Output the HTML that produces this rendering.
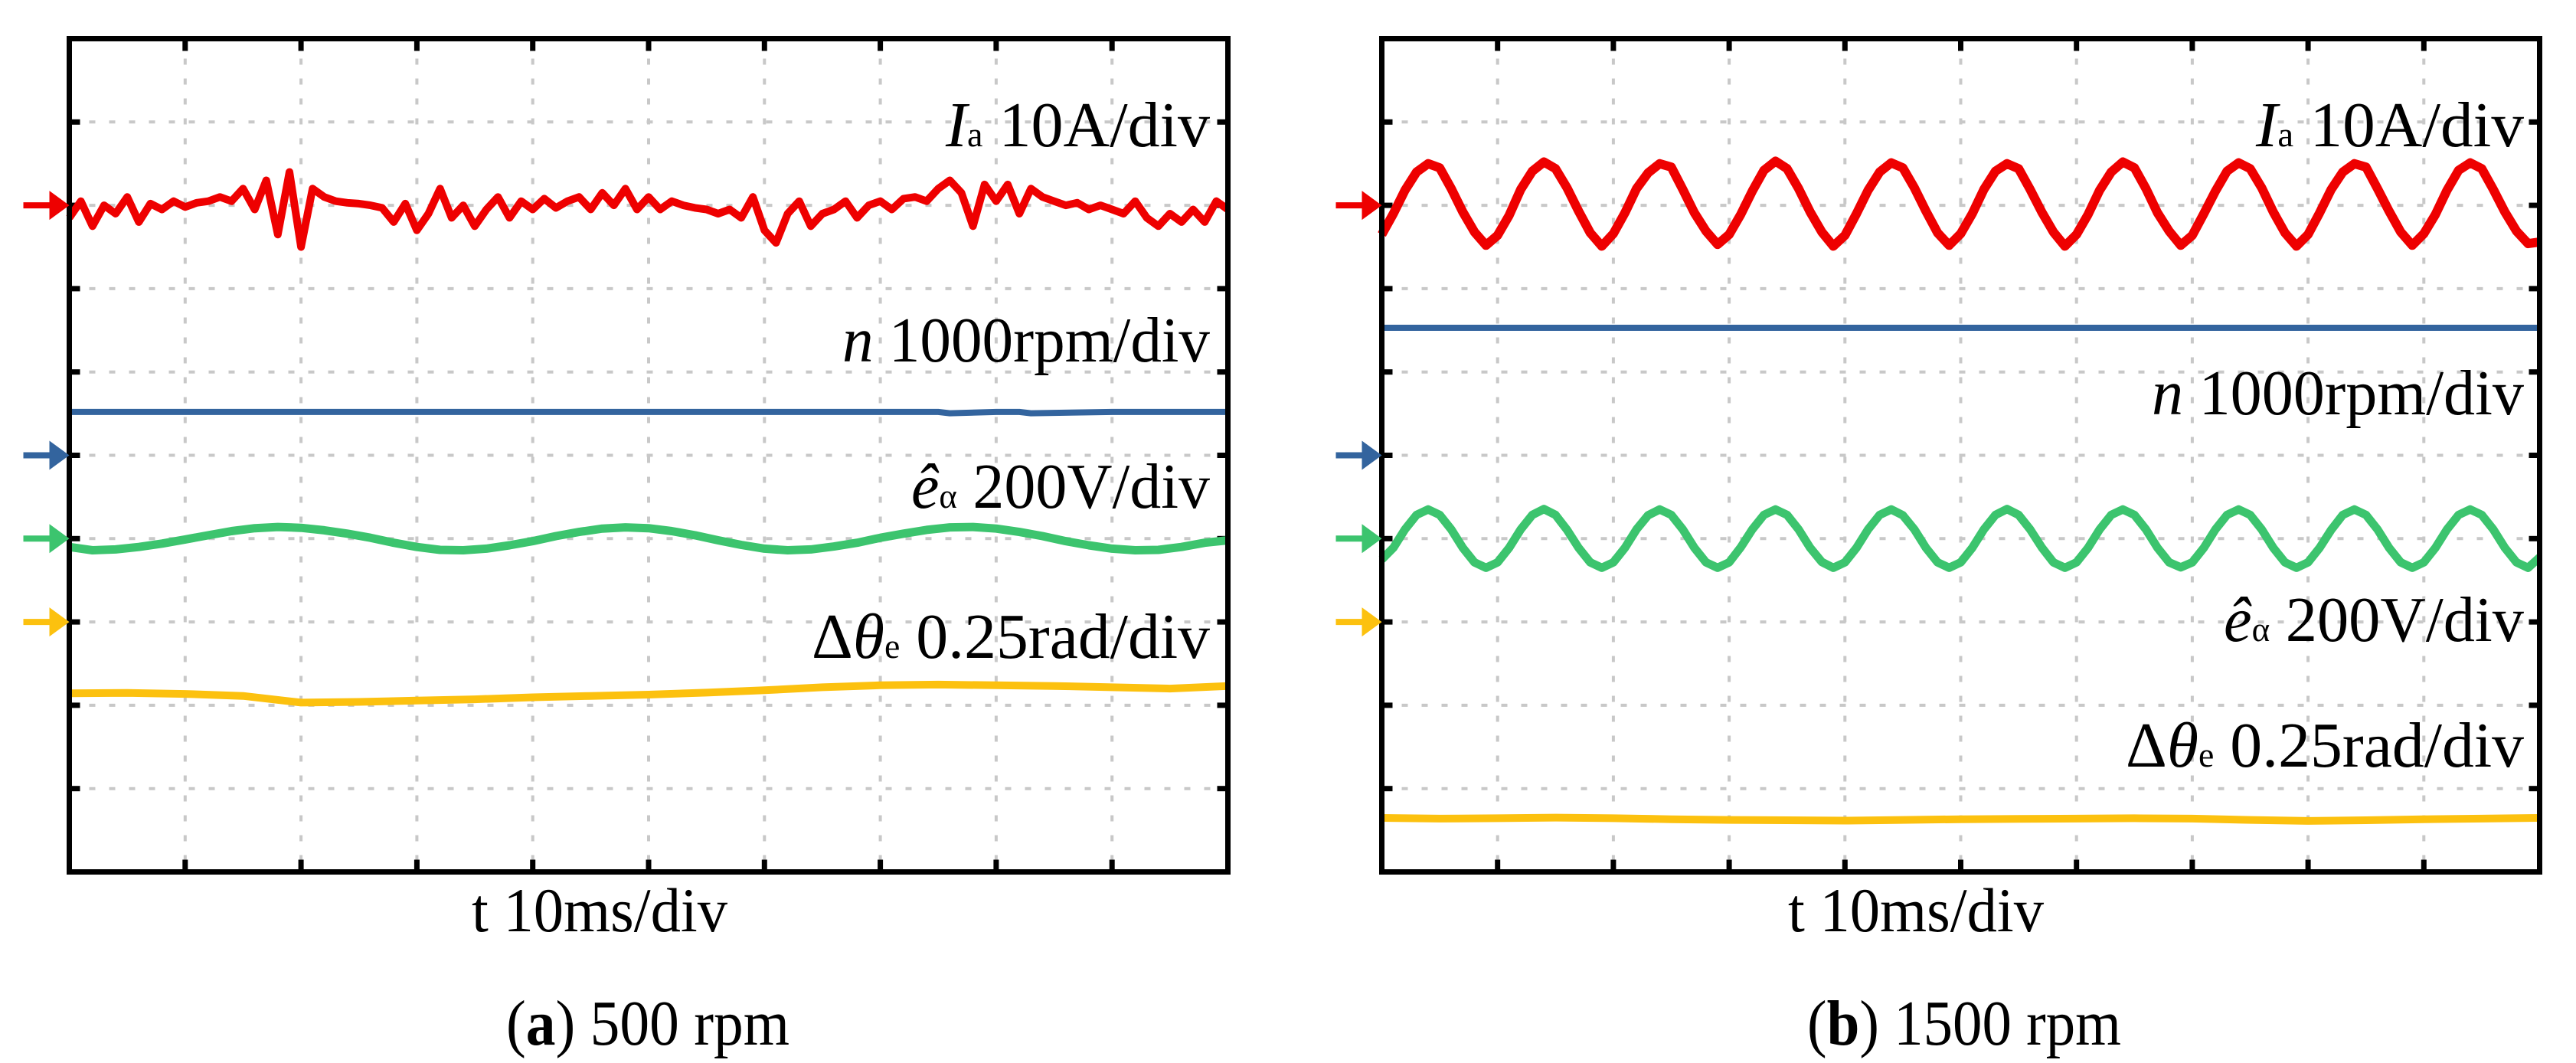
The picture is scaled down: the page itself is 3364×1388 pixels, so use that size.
<!DOCTYPE html>
<html><head><meta charset="utf-8"><style>
html,body{margin:0;padding:0;background:#fff;}
svg{display:block;font-family:"Liberation Serif",serif;}
</style></head><body>
<svg id="fig" width="3364" height="1388" viewBox="0 0 3364 1388" xmlns="http://www.w3.org/2000/svg"></svg>
<script>
// ---- data ----
const panelTitles = ["500 rpm", "1500 rpm"];
const panelLetters = ["a", "b"];
const timeSpanMs = 100;
const redTimeL = Array.from({length:101},(_, i)=>i);
const redL = [-1.5,0.5,-2.5,0,-1,1,-2,0.2,-0.5,0.5,-0.2,0.3,0.5,1,0.5,2,-0.5,3,-3.5,4,-5,2,1,0.5,0.3,0.2,0,-0.3,-2,0.2,-3,-1,2,-1.5,0,-2.5,-0.5,1,-1.5,0.5,-0.5,0.8,-0.3,0.5,1,-0.5,1.5,0,2,-0.5,1,-0.5,0.5,0,-0.3,-0.5,-1,-0.5,-1.5,1,-3,-4.5,-1,0.5,-2.5,-1,-0.5,0.5,-1.5,0,0.5,-0.5,0.8,1,0.5,2,3,1.5,-2.5,2.5,0.5,2.5,-1,2,1,0.5,0,0.3,-0.5,0,-0.5,-1,0.5,-1.5,-2.5,-1,-2,-0.5,-2,0.5,-0.5];
const redR = [-3.5,-1,1.8,4,5,4.5,2,-0.8,-3.2,-4.8,-3.6,-1.2,1.9,4.1,5.2,4.4,2.1,-0.7,-3.3,-4.9,-3.4,-0.9,2,3.9,5,4.6,1.9,-0.9,-3.1,-4.7,-3.5,-1.1,1.7,4.2,5.3,4.4,2,-0.8,-3.2,-4.9,-3.6,-1,1.8,4,5.1,4.5,2.1,-0.7,-3.3,-4.8,-3.4,-1,1.9,4.1,5,4.4,1.9,-0.8,-3.2,-4.9,-3.5,-1.1,1.8,4,5.2,4.5,2,-0.9,-3.1,-4.8,-3.6,-1,1.7,4.1,5.1,4.4,2.1,-0.8,-3.3,-4.9,-3.5,-0.9,1.9,4,5,4.6,2,-0.7,-3.2,-4.8,-3.4,-1.1,1.8,4.2,5.1,4.4,1.9,-0.8,-3.1,-4.6,-4.4];
const blueTime = [0,10,20,30,40,50,60,70,75,76,80,82,83,90,100];
const blueL = [520,520,520,520,520,520,520,520,520,505,520,520,505,520,520];
const blueR = [1530,1530,1530,1530,1530,1530,1530,1530,1530,1530,1530,1530,1530,1530,1530];
const greenTimeL = Array.from({length:51},(_, i)=>i*2);
const greenL = [-20,-28,-26,-20,-12,-2,8,18,25,28,26,20,12,2,-10,-20,-27,-28,-24,-16,-6,6,16,24,27,25,18,8,-4,-15,-24,-28,-26,-19,-10,2,12,21,27,28,24,16,6,-6,-16,-24,-28,-27,-20,-10,-4];
const greenTimeR = Array.from({length:101},(_, i)=>i);
const greenR = [-50,-22,22,57,70,57,22,-22,-57,-70,-57,-22,22,57,71,57,21,-22,-57,-70,-57,-22,22,56,70,57,22,-22,-57,-70,-57,-21,22,57,70,57,22,-22,-56,-70,-57,-22,22,57,70,56,22,-22,-57,-70,-57,-22,22,57,71,57,22,-21,-57,-70,-57,-22,22,57,70,57,22,-22,-57,-69,-57,-22,22,57,70,57,22,-22,-57,-70,-57,-22,21,57,70,57,22,-22,-57,-70,-57,-22,22,57,70,57,22,-22,-57,-70,-45];
const yellowTime = [0,5,10,15,20,25,30,35,40,45,50,55,60,65,70,75,80,85,90,95,100];
const yellowL = [-0.214,-0.213,-0.216,-0.222,-0.242,-0.24,-0.236,-0.232,-0.226,-0.222,-0.218,-0.212,-0.205,-0.196,-0.19,-0.188,-0.19,-0.192,-0.196,-0.2,-0.192];
const yellowR = [-0.588,-0.59,-0.589,-0.587,-0.589,-0.592,-0.594,-0.595,-0.596,-0.594,-0.592,-0.591,-0.59,-0.589,-0.59,-0.594,-0.597,-0.595,-0.592,-0.59,-0.588];
const channelScales = [10, 1000, 200, 0.25]; // units per division
const channelOffsetDiv = [3.0, 0, -1.0, -2.0]; // arrow positions (div above centre)
</script>
<script>
const NS="http://www.w3.org/2000/svg";
const svg=document.getElementById('fig');
function mk(tag,attrs,parent){const e=document.createElementNS(NS,tag);for(const k in attrs)e.setAttribute(k,attrs[k]);(parent||svg).appendChild(e);return e;}
const panels=[{x0:90.5,x1:1603.5},{x0:1804.5,x1:3316.5}];
const Y0=50.5,Y1=1138.5;
const divH=(Y1-Y0)/10;
const colors=["#ee0000","#33649e","#3cc46e","#fcc10f"];
panels.forEach((p,pi)=>{
  const g=mk('g',{});
  
  
  const divW=(p.x1-p.x0)/10;
  const xS=t=>p.x0+t/timeSpanMs*(p.x1-p.x0);
  const yS=(ch,v)=>Y0+5*divH-(channelOffsetDiv[ch]+v/channelScales[ch])*divH;
  for(let i=1;i<10;i++){
    const gx=mk('line',{x1:p.x0+i*divW,x2:p.x0+i*divW,y1:Y0,y2:Y1,stroke:'#c8c8c8','stroke-width':4,'stroke-dasharray':'8 18'},g);
    
    
    const gy=mk('line',{x1:p.x0,x2:p.x1,y1:Y0+i*divH,y2:Y0+i*divH,stroke:'#c8c8c8','stroke-width':4,'stroke-dasharray':'8 18'},g);
    
    
    mk('line',{x1:p.x0+i*divW,x2:p.x0+i*divW,y1:Y0,y2:Y0+16,stroke:'#000','stroke-width':7},g);
    mk('line',{x1:p.x0+i*divW,x2:p.x0+i*divW,y1:Y1,y2:Y1-16,stroke:'#000','stroke-width':7},g);
    mk('line',{x1:p.x0,x2:p.x0+14,y1:Y0+i*divH,y2:Y0+i*divH,stroke:'#000','stroke-width':7},g);
    mk('line',{x1:p.x1,x2:p.x1-14,y1:Y0+i*divH,y2:Y0+i*divH,stroke:'#000','stroke-width':7},g);
  }
  const series = pi===0
    ? [[redTimeL,redL,0],[blueTime,blueL,1],[greenTimeL,greenL,2],[yellowTime,yellowL,3]]
    : [[redTimeL,redR,0],[blueTime,blueR,1],[greenTimeR,greenR,2],[yellowTime,yellowR,3]];
  const names=['current-ia-trace','speed-n-trace','back-emf-trace','angle-error-trace'];
  const widths=[10,8,11,10];
  series.forEach(([ts,vs,ch])=>{
    const d=vs.map((v,i)=>(i?'L':'M')+xS(ts[i]).toFixed(1)+' '+yS(ch,v).toFixed(1)).join(' ');
    const path=mk('path',{d:d,fill:'none',stroke:colors[ch],'stroke-width':(ch===0&&pi===1)?12:widths[ch],'stroke-linejoin':'round'},g);
    
    
  });
  const fr=mk('rect',{x:p.x0,y:Y0,width:p.x1-p.x0,height:Y1-Y0,fill:'none',stroke:'#000','stroke-width':7},g);
  
  
  for(let ch=0;ch<4;ch++){
    const ay=Y0+5*divH-channelOffsetDiv[ch]*divH;
    const ax=p.x0;
    const ar=mk('path',{d:`M${ax-60} ${ay-4} L${ax-26} ${ay-4} L${ax-26} ${ay-19} L${ax} ${ay} L${ax-26} ${ay+19} L${ax-26} ${ay+4} L${ax-60} ${ay+4} Z`,fill:colors[ch]},g);
    
    
  }
  const cx=pi===0?783:2502;
  const xl=mk('text',{x:cx,y:1216,'font-size':82,'text-anchor':'middle',textLength:334,lengthAdjust:'spacingAndGlyphs'},g);
  xl.textContent='t 10ms/div';
  
  
  const cap=mk('text',{x:cx+63,y:1364,'font-size':84,'text-anchor':'middle',textLength:pi===0?370:410,lengthAdjust:'spacingAndGlyphs'},g);
  cap.innerHTML='(<tspan font-weight="bold">'+panelLetters[pi]+'</tspan>) '+panelTitles[pi];
  
  
});
const labelsPos=[
  {x:1580,ys:[191,472,663,859],w:[345,480,390,520]},
  {x:3296,ys:[191,541,837,1001],w:[350,486,392,520]}
];
const labelHTML=[
  '<tspan font-style="italic">I</tspan><tspan font-size="46">a</tspan>  10A/div',
  '<tspan font-style="italic">n</tspan> 1000rpm/div',
  '<tspan font-style="italic">ê</tspan><tspan font-size="46">α</tspan>  200V/div',
  'Δ<tspan font-style="italic">θ</tspan><tspan font-size="46">e</tspan> 0.25rad/div'
];
const labelNames=['current-scale-label','speed-scale-label','emf-scale-label','angle-scale-label'];
labelsPos.forEach(lp=>{
  lp.ys.forEach((y,i)=>{
    const t=mk('text',{x:lp.x,y:y,'font-size':84,'text-anchor':'end','xml:space':'preserve',textLength:lp.w[i],lengthAdjust:'spacingAndGlyphs'});
    t.innerHTML=labelHTML[i];
    
    
  });
});
</script>
</body></html>
